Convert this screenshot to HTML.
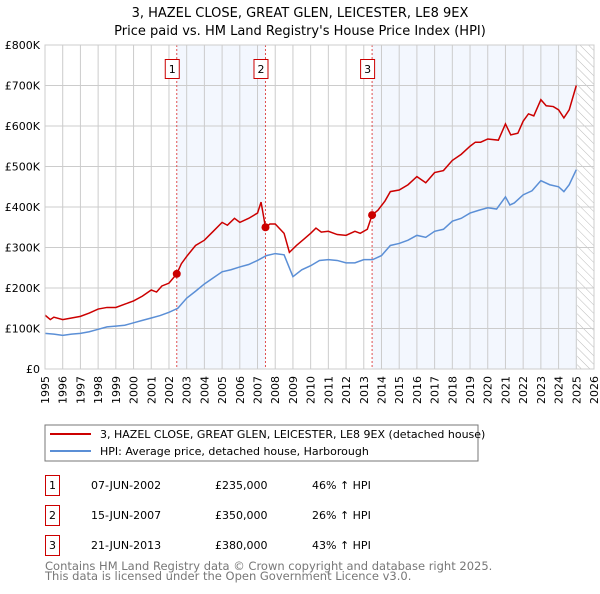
<!DOCTYPE html>
<html><head><meta charset="utf-8"><style>
body{margin:0;background:#fff;font-family:"DejaVu Sans","Liberation Sans",sans-serif;}
svg text{font-family:"DejaVu Sans","Liberation Sans",sans-serif;}
</style></head><body>
<svg id="c" width="600" height="590" viewBox="0 0 600 590" xmlns="http://www.w3.org/2000/svg">
<defs><pattern id="hatch" width="6" height="6" patternUnits="userSpaceOnUse" patternTransform="rotate(-45)"><line x1="0" y1="0" x2="0" y2="6" stroke="#bbb" stroke-width="1"/></pattern></defs>
<text x="300" y="17" text-anchor="middle" font-size="13" fill="#000">3, HAZEL CLOSE, GREAT GLEN, LEICESTER, LE8 9EX</text>
<text x="300" y="35" text-anchor="middle" font-size="13" fill="#000">Price paid vs. HM Land Registry's House Price Index (HPI)</text>
<g id="plot"></g>
<rect x="45" y="425" width="433" height="36" fill="#fff" stroke="#777"/>
<line x1="50" y1="434" x2="91" y2="434" stroke="#cc0000" stroke-width="2"/>
<text x="100" y="438" font-size="11">3, HAZEL CLOSE, GREAT GLEN, LEICESTER, LE8 9EX (detached house)</text>
<line x1="50" y1="451" x2="91" y2="451" stroke="#5b8fd6" stroke-width="2"/>
<text x="100" y="455" font-size="11">HPI: Average price, detached house, Harborough</text>
<g font-size="11" fill="#000">
<rect x="45.5" y="475.5" width="14" height="20" fill="none" stroke="#cc0000"/><text x="52.5" y="489" text-anchor="middle">1</text>
<text x="91" y="489">07-JUN-2002</text><text x="215" y="489">£235,000</text><text x="312" y="489">46% ↑ HPI</text>
<rect x="45.5" y="505.5" width="14" height="20" fill="none" stroke="#cc0000"/><text x="52.5" y="519" text-anchor="middle">2</text>
<text x="91" y="519">15-JUN-2007</text><text x="215" y="519">£350,000</text><text x="312" y="519">26% ↑ HPI</text>
<rect x="45.5" y="535.5" width="14" height="20" fill="none" stroke="#cc0000"/><text x="52.5" y="549" text-anchor="middle">3</text>
<text x="91" y="549">21-JUN-2013</text><text x="215" y="549">£380,000</text><text x="312" y="549">43% ↑ HPI</text>
</g>
<text x="45" y="570" font-size="11.5" fill="#777">Contains HM Land Registry data © Crown copyright and database right 2025.</text>
<text x="45" y="580" font-size="11.5" fill="#777">This data is licensed under the Open Government Licence v3.0.</text>
</svg>
<script>
const yTicks=[0,100,200,300,400,500,600,700,800];
const yTickLabels=["£0","£100K","£200K","£300K","£400K","£500K","£600K","£700K","£800K"];
const years=[1995,1996,1997,1998,1999,2000,2001,2002,2003,2004,2005,2006,2007,2008,2009,2010,2011,2012,2013,2014,2015,2016,2017,2018,2019,2020,2021,2022,2023,2024,2025,2026];
const saleDates=[2002.44,2007.45,2013.47];
const salePrices=[235,350,380];
const saleLabels=["1","2","3"];
const dataEnd=2025.05;
const hpiT=[1995,1995.5,1996,1996.5,1997,1997.5,1998,1998.5,1999,1999.5,2000,2000.5,2001,2001.5,2002,2002.5,2003,2003.5,2004,2004.5,2005,2005.5,2006,2006.5,2007,2007.5,2008,2008.5,2009,2009.5,2010,2010.5,2011,2011.5,2012,2012.5,2013,2013.5,2014,2014.5,2015,2015.5,2016,2016.5,2017,2017.5,2018,2018.5,2019,2019.5,2020,2020.5,2021,2021.25,2021.5,2022,2022.5,2023,2023.5,2024,2024.3,2024.6,2025];
const hpiV=[88,86,83,86,88,92,98,104,106,108,114,120,126,132,140,150,175,192,210,225,240,245,252,258,268,280,285,282,228,245,255,268,270,268,262,262,270,270,280,305,310,318,330,325,340,345,365,372,385,392,398,395,425,405,410,430,440,465,455,450,438,455,492];
const redT=[1995,1995.3,1995.5,1996,1996.5,1997,1997.5,1998,1998.5,1999,1999.5,2000,2000.5,2001,2001.3,2001.6,2002,2002.44,2002.7,2003,2003.5,2004,2004.5,2005,2005.3,2005.7,2006,2006.5,2007,2007.2,2007.45,2007.7,2008,2008.5,2008.8,2009.2,2009.6,2010,2010.3,2010.6,2011,2011.5,2012,2012.5,2012.8,2013.2,2013.47,2013.8,2014.2,2014.5,2015,2015.5,2016,2016.5,2017,2017.5,2018,2018.5,2019,2019.3,2019.6,2020,2020.6,2021,2021.3,2021.7,2022,2022.3,2022.6,2023,2023.3,2023.7,2024,2024.3,2024.6,2025];
const redV=[133,122,128,122,126,130,138,148,152,152,160,168,180,195,190,205,212,235,260,278,305,318,340,362,355,372,362,372,385,412,350,358,358,335,288,305,320,335,348,338,340,332,330,340,335,345,380,392,415,438,442,455,475,460,485,490,515,530,550,560,560,568,565,605,578,582,612,630,625,665,650,648,640,620,640,700];
const L=45,R=594,T=45,B=369,X0=1995,X1=2026;
const xs=t=>L+(t-X0)/(X1-X0)*(R-L);
const ys=v=>B-v/800*(B-T);
const NS="http://www.w3.org/2000/svg";
const g=document.getElementById('plot');
function mk(tag,attrs,parent){const e=document.createElementNS(NS,tag);for(const k in attrs)e.setAttribute(k,attrs[k]);(parent||g).appendChild(e);return e;}
let e;
e=mk('rect',{x:xs(saleDates[0]),y:T,width:xs(saleDates[1])-xs(saleDates[0]),height:B-T,fill:'#eef3fd',opacity:0.7});


e=mk('rect',{x:xs(saleDates[2]),y:T,width:xs(dataEnd)-xs(saleDates[2]),height:B-T,fill:'#eef3fd',opacity:0.7});


e=mk('rect',{x:xs(dataEnd),y:T,width:R-xs(dataEnd),height:B-T,fill:'url(#hatch)'});


years.forEach(y=>{
 e=mk('line',{x1:xs(y),x2:xs(y),y1:T,y2:B,stroke:'#ccc','stroke-width':1});
 
 
 e=mk('text',{x:0,y:0,'text-anchor':'end','font-size':11,transform:'translate('+(xs(y)+4)+',376) rotate(-90)'});
 e.textContent=String(y);
 
 
});
yTicks.forEach((v,i)=>{
 e=mk('line',{x1:L,x2:R,y1:ys(v),y2:ys(v),stroke:'#ccc','stroke-width':1});
 
 
 e=mk('text',{x:40,y:ys(v)+4,'text-anchor':'end','font-size':11});
 e.textContent=yTickLabels[i];
 
 
});
saleDates.forEach((d,i)=>{
 e=mk('line',{x1:xs(d),x2:xs(d),y1:T,y2:B,stroke:'#e05050','stroke-width':1,'stroke-dasharray':'2,2'});
 
 
 e=mk('rect',{x:xs(d)-11.5,y:59.5,width:14,height:19,fill:'#fff',stroke:'#cc0000'});
 
 
 e=mk('text',{x:xs(d)-4.5,y:73,'text-anchor':'middle','font-size':11});
 e.textContent=saleLabels[i];
 
 
});
e=mk('polyline',{points:hpiT.map((t,i)=>xs(t)+','+ys(hpiV[i])).join(' '),fill:'none',stroke:'#5b8fd6','stroke-width':1.5});


e=mk('polyline',{points:redT.map((t,i)=>xs(t)+','+ys(redV[i])).join(' '),fill:'none',stroke:'#cc0000','stroke-width':1.5});


saleDates.forEach((d,i)=>{
 e=mk('circle',{cx:xs(d),cy:ys(salePrices[i]),r:4,fill:'#cc0000'});
 
 
});
e=mk('rect',{x:L,y:T,width:R-L,height:B-T,fill:'none',stroke:'#ccc'});


</script>
</body></html>
